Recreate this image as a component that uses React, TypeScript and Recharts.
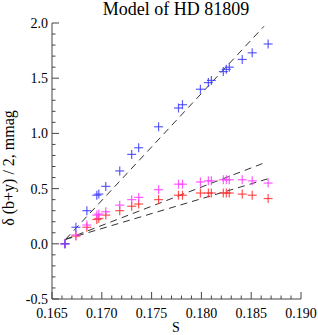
import React from 'react'
import {
  ComposedChart,
  Scatter,
  XAxis,
  YAxis,
  ReferenceLine,
} from 'recharts'

// ─── Data ────────────────────────────────────────────────────────────────────
const S_VALUES = [
  0.1663, 0.1674, 0.1685, 0.1695, 0.1697, 0.1704, 0.1718, 0.1730, 0.1737, 0.1757, 0.1777,
  0.1781, 0.1799, 0.1807, 0.1810, 0.1822, 0.1825, 0.1828, 0.1841, 0.1851, 0.1867,
]
const BLUE_VALUES = [
  0, 0.15, 0.30, 0.44, 0.45, 0.52, 0.66, 0.81, 0.87, 1.06, 1.23,
  1.26, 1.40, 1.46, 1.48, 1.56, 1.58, 1.60, 1.67, 1.73, 1.81,
]
const MAGENTA_VALUES = [
  0, 0.08, 0.17, 0.26, 0.27, 0.29, 0.35, 0.40, 0.42, 0.49, 0.54,
  0.54, 0.56, 0.57, 0.57, 0.58, 0.58, 0.58, 0.58, 0.57, 0.55,
]
const RED_VALUES = [
  0, 0.07, 0.15, 0.22, 0.23, 0.26, 0.30, 0.34, 0.36, 0.40, 0.44,
  0.44, 0.46, 0.46, 0.46, 0.46, 0.46, 0.46, 0.45, 0.44, 0.41,
]

// dashed model lines: common start, one end per series
const FIT_START = { x: 0.16636, y: 0.04 }
const FIT_END_S = [0.18628, 0.18628, 0.18672]
const FIT_END_Y = [1.97, 0.732, 0.59]

const X_MAJOR = [0.165, 0.17, 0.175, 0.18, 0.185, 0.19]
const Y_MAJOR = [-0.5, 0, 0.5, 1.0, 1.5, 2.0]

const X_TICKS = Array.from({ length: 26 }, (_, i) => +(0.165 + i * 0.001).toFixed(3))
const Y_TICKS = Array.from({ length: 26 }, (_, i) => +(-0.5 + i * 0.1).toFixed(1))

const FONT = '"Liberation Serif", "Times New Roman", serif'
const BLUE = '#4040ff'
const MAGENTA = '#ff40ff'
const RED = '#ff3333'

const toPoints = (ys: number[]) => S_VALUES.map((x, i) => ({ x, y: ys[i] }))

const isMajor = (list: number[], v: number) => list.some((m) => Math.abs(m - v) < 1e-9)

function Plus(color: string) {
  return (props: any) => {
    const { cx, cy } = props
    if (cx == null || cy == null) return <g />
    return (
      <g stroke={color} strokeWidth={1.2} strokeOpacity={0.85}>
        <line x1={cx - 4.5} y1={cy} x2={cx + 4.5} y2={cy} />
        <line x1={cx} y1={cy - 4.5} x2={cx} y2={cy + 4.5} />
      </g>
    )
  }
}

// inward pointing IDL style ticks
function makeTick(side: 'bottom' | 'top' | 'left' | 'right') {
  return (props: any) => {
    const { x, y, payload } = props
    const v = payload.value
    const major = isMajor(side === 'bottom' || side === 'top' ? X_MAJOR : Y_MAJOR, v)
    const len = major ? 7 : 3.5
    let line
    if (side === 'bottom') line = <line x1={x} y1={y} x2={x} y2={y - len} />
    else if (side === 'top') line = <line x1={x} y1={y} x2={x} y2={y + len} />
    else if (side === 'left') line = <line x1={x} y1={y} x2={x + len} y2={y} />
    else line = <line x1={x} y1={y} x2={x - len} y2={y} />
    return (
      <g>
        <g stroke="#444" strokeWidth={1}>{line}</g>
        {major && side === 'bottom' && (
          <text x={x} y={y + 19} textAnchor="middle" fontSize={14} fontFamily={FONT} fill="#000">
            {v.toFixed(3)}
          </text>
        )}
        {major && side === 'left' && (
          <text x={x - 4} y={y + 5} textAnchor="end" fontSize={14} fontFamily={FONT} fill="#000">
            {v.toFixed(1)}
          </text>
        )}
      </g>
    )
  }
}

export default function App() {
  const fits = FIT_END_S.map((s, i) => [FIT_START, { x: s, y: FIT_END_Y[i] }])

  return (
    <div style={{ position: 'absolute', left: 0, top: 0, width: 318, height: 335, background: '#fff' }}>
      <ComposedChart width={318} height={335} margin={{ top: 23, right: 17, bottom: 0, left: 0 }}>
        <XAxis
          xAxisId="b"
          type="number"
          dataKey="x"
          domain={[0.165, 0.19]}
          ticks={X_TICKS}
          interval={0}
          allowDataOverflow
          height={36}
          tickSize={0}
          tickMargin={0}
          tickLine={false}
          tick={makeTick('bottom')}
          axisLine={{ stroke: '#444' }}
        />
        <XAxis
          xAxisId="t"
          orientation="top"
          type="number"
          dataKey="x"
          domain={[0.165, 0.19]}
          ticks={X_TICKS}
          interval={0}
          allowDataOverflow
          height={0}
          tickSize={0}
          tickMargin={0}
          tickLine={false}
          tick={makeTick('top')}
          axisLine={{ stroke: '#444' }}
        />
        <YAxis
          yAxisId="l"
          type="number"
          dataKey="y"
          domain={[-0.5, 2.0]}
          ticks={Y_TICKS}
          interval={0}
          allowDataOverflow
          width={52}
          tickSize={0}
          tickMargin={0}
          tickLine={false}
          tick={makeTick('left')}
          axisLine={{ stroke: '#444' }}
        />
        <YAxis
          yAxisId="r"
          orientation="right"
          type="number"
          dataKey="y"
          domain={[-0.5, 2.0]}
          ticks={Y_TICKS}
          interval={0}
          allowDataOverflow
          width={0}
          tickSize={0}
          tickMargin={0}
          tickLine={false}
          tick={makeTick('right')}
          axisLine={{ stroke: '#444' }}
        />
        {fits.map((seg, i) => (
          <ReferenceLine
            key={i}
            xAxisId="b"
            yAxisId="l"
            segment={seg}
            stroke="#333"
            strokeWidth={1}
            strokeDasharray="7 5"
            ifOverflow="visible"
          />
        ))}
        <Scatter xAxisId="b" yAxisId="l" data={toPoints(RED_VALUES)} dataKey="y" shape={Plus(RED)} isAnimationActive={false} />
        <Scatter xAxisId="b" yAxisId="l" data={toPoints(MAGENTA_VALUES)} dataKey="y" shape={Plus(MAGENTA)} isAnimationActive={false} />
        <Scatter xAxisId="b" yAxisId="l" data={toPoints(BLUE_VALUES)} dataKey="y" shape={Plus(BLUE)} isAnimationActive={false} />
      </ComposedChart>
      {/* titles drawn on top */}
      <svg width={318} height={335} style={{ position: 'absolute', left: 0, top: 0, pointerEvents: 'none' }}>
        <text x={176} y={15} textAnchor="middle" fontSize={18} fontFamily={FONT} fill="#000">
          Model of HD 81809
        </text>
        <text x={176} y={332} textAnchor="middle" fontSize={14} fontFamily={FONT} fill="#000">
          S
        </text>
        <text
          x={0}
          y={0}
          transform="translate(14,168) rotate(-90)"
          textAnchor="middle"
          fontSize={16}
          fontFamily={FONT}
          fill="#000"
        >
          δ (b+y) / 2, mmag
        </text>
      </svg>
    </div>
  )
}
